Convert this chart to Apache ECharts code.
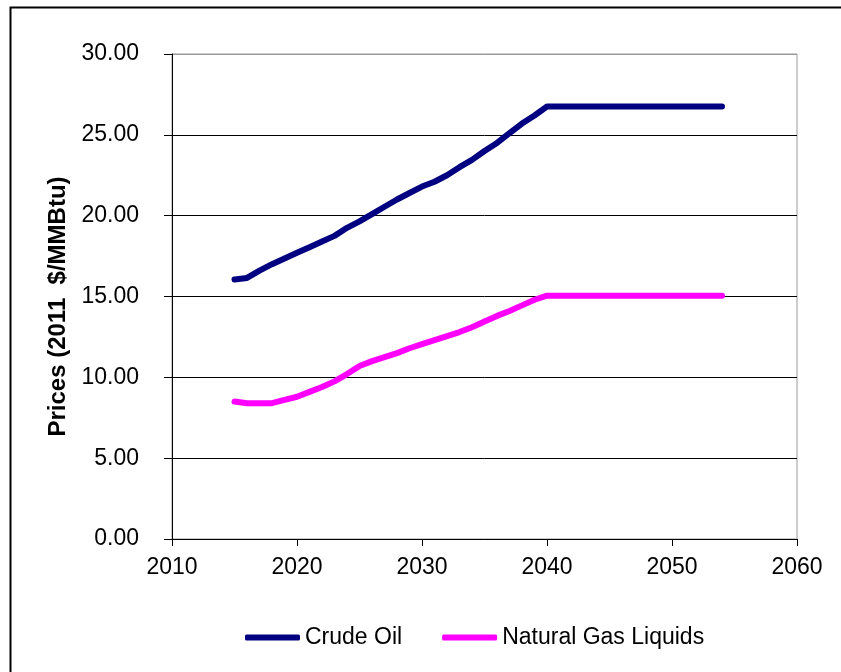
<!DOCTYPE html>
<html>
<head>
<meta charset="utf-8">
<script src="https://cdn.jsdelivr.net/npm/echarts@6/dist/echarts.min.js"></script>
<style>html,body{margin:0;padding:0;background:#fff;}#c{width:841px;height:672px;}</style>
</head>
<body>
<div id="c"></div>
<script>
const years = [2015,2016,2017,2018,2019,2020,2021,2022,2023,2024,2025,2026,2027,2028,2029,2030,2031,2032,2033,2034,2035,2036,2037,2038,2039,2040,2041,2042,2043,2044,2045,2046,2047,2048,2049,2050,2051,2052,2053,2054];
const crudeOil = [16.05,16.15,16.6,17.0,17.35,17.7,18.05,18.4,18.75,19.25,19.65,20.1,20.55,21.0,21.4,21.8,22.1,22.5,23.0,23.45,24.0,24.5,25.1,25.7,26.2,26.75,26.75,26.75,26.75,26.75,26.75,26.75,26.75,26.75,26.75,26.75,26.75,26.75,26.75,26.75];
const ngl = [8.5,8.4,8.4,8.4,8.6,8.8,9.1,9.4,9.75,10.2,10.7,11.0,11.25,11.5,11.8,12.05,12.3,12.55,12.8,13.1,13.45,13.8,14.1,14.45,14.8,15.05,15.05,15.05,15.05,15.05,15.05,15.05,15.05,15.05,15.05,15.05,15.05,15.05,15.05,15.05];
const seriesNames = ['Crude Oil','Natural Gas Liquids'];
const yTitle = 'Prices (2011  $/MMBtu)';

const font = "'Liberation Sans', Arial, sans-serif";
const chart = echarts.init(document.getElementById('c'), null, {renderer:'canvas'});
chart.setOption({
  backgroundColor: '#fff',
  animation: false,
  graphic: [{
    type: 'rect', left: 8, top: 5, z: 100,
    shape: {width: 900, height: 900},
    style: {fill: 'none', stroke: '#000', lineWidth: 2}
  }],
  grid: {left: 172, right: 44, top: 54, bottom: 133, show: true, borderColor: '#999', borderWidth: 1, backgroundColor: '#fff'},
  legend: {
    top: 621, left: 240,
    itemWidth: 55, itemHeight: 6, itemGap: 40,
    icon: 'roundRect',
    textStyle: {fontFamily: font, fontSize: 23, color: '#000'},
    data: seriesNames
  },
  xAxis: {
    type: 'value', min: 2010, max: 2060, interval: 10,
    axisLine: {show: true, lineStyle: {color: '#000', width: 1}},
    axisTick: {show: true, length: 7, lineStyle: {color: '#000'}},
    axisLabel: {fontFamily: font, fontSize: 23, color: '#000', margin: 17, formatter: v => String(v)},
    splitLine: {show: false}
  },
  yAxis: {
    type: 'value', min: 0, max: 30, interval: 5,
    name: yTitle, nameLocation: 'middle', nameGap: 102, nameRotate: 90,
    nameTextStyle: {fontFamily: font, fontSize: 24, fontWeight: 'bold', color: '#000', padding: [0, 20, 0, 0]},
    axisLine: {show: true, lineStyle: {color: '#000', width: 1}},
    axisTick: {show: true, length: 8, lineStyle: {color: '#000'}},
    axisLabel: {fontFamily: font, fontSize: 23, color: '#000', margin: 33, formatter: v => v.toFixed(2)},
    splitLine: {show: true, lineStyle: {color: ['#000','#000','#000','#000','#000','#000','#999'], width: 1}}
  },
  series: [
    {name: seriesNames[0], type: 'line', data: years.map((y,i)=>[y, crudeOil[i]]), showSymbol: false, symbol: 'none',
     lineStyle: {color: '#000080', width: 6, cap: 'round', join: 'round'}, itemStyle: {color: '#000080'}},
    {name: seriesNames[1], type: 'line', data: years.map((y,i)=>[y, ngl[i]]), showSymbol: false, symbol: 'none',
     lineStyle: {color: '#FF00FF', width: 6, cap: 'round', join: 'round'}, itemStyle: {color: '#FF00FF'}}
  ]
});
</script>
</body>
</html>
